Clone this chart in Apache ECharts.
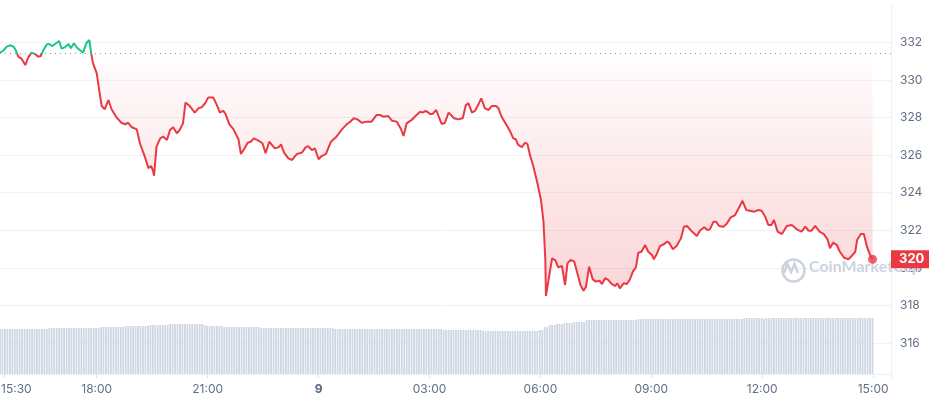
<!DOCTYPE html>
<html><head><meta charset="utf-8">
<script src="https://cdn.jsdelivr.net/npm/echarts@6/dist/echarts.min.js"></script>
<style>html,body{margin:0;padding:0;background:#fff}#c{width:929px;height:400px}</style>
</head><body><div id="c"></div>
<script>
// ---- data ----
const priceTimes = [
'15:23','15:28','15:34','15:39','15:45','15:49','15:53','15:58','16:04','16:09',
'16:14','16:20','16:25','16:29','16:33','16:39','16:43','16:48','16:54','16:59',
'17:03','17:08','17:14','17:18','17:23','17:28','17:34','17:38','17:43','17:48',
'17:51','17:54','18:00','18:04','18:08','18:13','18:19','18:24','18:32','18:40',
'18:46','18:51','18:57','19:05','19:10','19:18','19:24','19:28','19:31','19:33',
'19:37','19:43','19:48','19:54','19:59','20:04','20:10','20:15','20:20','20:24',
'20:31','20:39','20:45','20:50','20:56','21:01','21:09','21:15','21:20','21:25',
'21:29','21:35','21:42','21:50','21:54','21:59','22:05','22:10','22:15','22:21',
'22:29','22:34','22:40','22:49','22:55','22:59','23:04','23:11','23:17','23:25',
'23:33','23:39','23:43','23:49','23:54','00:00','00:05','00:12','00:20','00:29',
'00:38','00:46','00:51','00:57','01:03','01:10','01:18','01:26','01:34','01:40',
'01:45','01:53','01:59','02:07','02:13','02:18','02:23','02:31','02:39','02:45',
'02:49','02:54','03:01','03:05','03:11','03:16','03:20','03:25','03:31','03:34',
'03:40','03:47','03:54','03:59','04:03','04:09','04:14','04:19','04:24','04:30',
'04:36','04:41','04:48','04:52','04:57','05:05','05:11','05:16','05:20','05:24',
'05:30','05:35','05:39','05:43','05:48','05:54','06:01','06:05','06:08','06:09',
'06:15','06:19','06:24','06:29','06:35','06:40','06:44','06:49','06:55','07:00',
'07:05','07:10','07:14','07:19','07:25','07:30','07:36','07:40','07:45','07:50',
'07:56','08:01','08:05','08:09','08:15','08:20','08:25','08:30','08:35','08:39',
'08:44','08:50','08:55','09:01','09:04','09:09','09:14','09:21','09:25','09:29',
'09:35','09:41','09:48','09:53','09:58','10:06','10:14','10:19','10:26','10:31',
'10:35','10:41','10:45','10:50','10:57','11:02','11:09','11:16','11:21','11:28',
'11:34','11:40','11:47','11:54','11:59','12:05','12:10','12:15','12:19','12:25',
'12:32','12:40','12:48','12:56','13:04','13:10','13:15','13:20','13:26','13:33',
'13:40','13:46','13:50','13:55','14:01','14:06','14:13','14:20','14:25','14:31',
'14:34','14:40','14:45','14:50','14:55','14:59'
];
const priceValues = [
331.45,331.55,331.77,331.84,331.77,331.55,331.23,331.13,330.79,331.20,
331.45,331.38,331.23,331.27,331.55,331.89,331.91,331.80,331.95,332.07,
331.66,331.73,331.91,331.68,331.95,331.71,331.55,331.45,331.95,332.12,
331.41,330.88,330.35,329.46,328.61,328.44,328.93,328.44,328.01,327.72,
327.64,327.72,327.48,327.37,326.63,325.92,325.30,325.42,325.21,324.90,
326.45,326.89,326.98,326.80,327.34,327.48,327.16,327.36,327.69,328.79,
328.61,328.26,328.49,328.54,328.76,329.07,329.07,328.66,328.26,328.36,
328.19,327.65,327.37,326.84,326.06,326.31,326.66,326.71,326.89,326.80,
326.63,326.10,326.71,326.36,326.41,326.57,326.13,325.83,325.74,326.06,
326.13,326.41,326.48,326.27,326.36,325.78,325.95,326.06,326.71,326.98,
327.37,327.65,327.76,327.96,327.90,327.72,327.78,327.78,328.13,328.13,
328.04,328.08,327.83,327.78,327.43,327.02,327.69,327.87,328.13,328.31,
328.26,328.35,328.19,328.19,328.40,327.96,327.65,327.72,328.26,328.31,
327.96,327.90,327.96,328.66,328.76,328.26,328.36,328.66,329.02,328.49,
328.40,328.61,328.61,328.49,328.04,327.60,327.25,326.89,326.84,326.54,
326.42,326.66,326.59,326.01,325.47,324.68,323.61,322.46,320.42,318.51,
319.71,320.51,320.42,320.03,320.10,319.09,320.24,320.42,320.33,319.71,
319.09,318.79,319.00,320.06,319.39,319.27,319.32,319.14,319.45,319.36,
319.14,319.04,319.18,318.91,319.18,319.14,319.36,319.80,320.03,320.81,
320.86,321.22,320.86,320.69,320.46,320.74,321.16,321.27,321.39,321.34,
320.99,321.16,321.57,322.19,322.23,321.93,321.70,321.99,322.16,322.02,
322.05,322.46,322.46,322.23,322.19,322.33,322.69,322.81,323.12,323.57,
323.08,323.04,322.99,323.08,323.04,322.72,322.28,322.28,322.55,321.93,
321.80,322.23,322.28,322.05,321.93,322.19,321.98,321.98,322.23,321.93,
321.80,321.52,321.04,321.34,321.22,320.86,320.54,320.46,320.63,320.86,
321.48,321.80,321.80,321.13,320.69,320.46
];
const referencePrice = 331.4;          // dotted opening-price line
const volumeStartTime = '15:23';
const volumeStepMinutes = 4;
const volumeValues = [
4.5,4.5,4.5,4.5,4.5,4.5,4.5,4.5,4.5,4.5,
4.5,4.5,4.5,4.5,4.5,4.5,4.5,4.5,4.5,4.5,
4.6,4.6,4.6,4.6,4.6,4.6,4.6,4.6,4.6,4.6,
4.6,4.6,4.6,4.6,4.6,4.6,4.6,4.6,4.6,4.6,
4.6,4.7,4.7,4.7,4.7,4.7,4.7,4.7,4.7,4.7,
4.7,4.8,4.8,4.8,4.8,4.8,4.8,4.8,4.8,4.8,
4.8,4.9,4.9,4.9,4.9,4.9,4.9,4.9,4.9,5.0,
5.0,5.0,5.0,5.0,5.0,5.0,5.0,5.0,5.0,5.0,
5.0,5.0,5.0,4.9,4.8,4.8,4.8,4.8,4.8,4.8,
4.8,4.7,4.7,4.7,4.7,4.7,4.7,4.7,4.7,4.7,
4.7,4.7,4.7,4.7,4.7,4.7,4.6,4.6,4.6,4.6,
4.6,4.6,4.6,4.6,4.6,4.6,4.6,4.6,4.6,4.6,
4.6,4.6,4.6,4.6,4.6,4.6,4.6,4.6,4.6,4.6,
4.6,4.6,4.6,4.6,4.6,4.6,4.5,4.5,4.5,4.5,
4.5,4.5,4.5,4.5,4.5,4.5,4.5,4.5,4.5,4.5,
4.5,4.5,4.5,4.5,4.5,4.5,4.5,4.5,4.5,4.5,
4.5,4.5,4.5,4.5,4.5,4.5,4.5,4.5,4.5,4.5,
4.5,4.5,4.5,4.5,4.5,4.5,4.5,4.5,4.5,4.5,
4.4,4.4,4.4,4.4,4.4,4.4,4.4,4.4,4.4,4.4,
4.4,4.4,4.4,4.4,4.4,4.4,4.3,4.3,4.3,4.3,
4.3,4.3,4.3,4.3,4.3,4.3,4.3,4.3,4.3,4.3,
4.3,4.3,4.3,4.3,4.3,4.3,4.3,4.3,4.3,4.4,
4.4,4.7,4.7,4.9,4.9,4.9,5.0,5.0,5.0,5.1,
5.1,5.1,5.1,5.2,5.2,5.2,5.2,5.2,5.4,5.4,
5.4,5.4,5.4,5.4,5.4,5.4,5.4,5.4,5.4,5.4,
5.4,5.4,5.4,5.4,5.4,5.4,5.4,5.4,5.4,5.5,
5.5,5.5,5.5,5.5,5.5,5.5,5.5,5.5,5.5,5.5,
5.5,5.5,5.5,5.5,5.5,5.5,5.5,5.5,5.5,5.5,
5.5,5.5,5.5,5.5,5.5,5.5,5.5,5.5,5.5,5.5,
5.5,5.5,5.5,5.5,5.5,5.5,5.5,5.5,5.5,5.5,
5.5,5.5,5.6,5.6,5.6,5.6,5.6,5.6,5.6,5.6,
5.5,5.6,5.6,5.6,5.6,5.6,5.6,5.6,5.6,5.6,
5.6,5.6,5.6,5.6,5.6,5.6,5.6,5.6,5.6,5.6,
5.6,5.6,5.6,5.6,5.6,5.6,5.6,5.6,5.6,5.6,
5.6,5.6,5.6,5.6,5.6,5.6,5.6,5.6,5.6,5.6,
5.6,5.6,5.6,5.6,5.6
];
const axisStartTime = '15:23';
const axisEndTime = '15:29';           // next day
const xTickTimes = ['15:30','18:00','21:00','00:00','03:00','06:00','09:00','12:00','15:00'];
const xTickLabels = ['15:30','18:00','21:00','9','03:00','06:00','09:00','12:00','15:00'];
const priceAxisMin = 314, priceAxisMax = 334, priceAxisStep = 2;

// ---- helpers ----
function clock(s){ const p = s.split(':').map(Number); return p[0] + p[1]/60; }
function toHoursSeq(list, start){
  const out = []; let prev = start, add = 0;
  for (const s of list){ let v = clock(s) + add; if (v < prev - 1e-9){ add += 24; v += 24; } out.push(v); prev = v; }
  return out;
}
const xMin = clock(axisStartTime);
const xMax = clock(axisEndTime) + 24;
const tickHours = toHoursSeq(xTickTimes, xMin);
const priceHours = toHoursSeq(priceTimes, xMin);
const priceData = priceHours.map((h, i) => [h, priceValues[i]]);
const vStart = clock(volumeStartTime);
const volumeData = volumeValues.map((v, i) => [vStart + i * volumeStepMinutes / 60, v]);
const lastPoint = priceData[priceData.length - 1];

const RED = '#ea3943', GREEN = '#16c784';
const chart = echarts.init(document.getElementById('c'), null, {renderer: 'canvas'});
const FONT = 'Inter, "Noto Sans", sans-serif';

chart.setOption({
  animation: false,
  backgroundColor: '#fff',
  textStyle: {fontFamily: FONT},
  grid: [
    {left: 0, right: 38, top: 4.7, bottom: 19.3, containLabel: false, outerBoundsMode: 'none'},
    {left: 0, right: 38, top: 300, bottom: 26, containLabel: false, outerBoundsMode: 'none'}
  ],
  xAxis: [
    {type: 'value', gridIndex: 0, min: xMin, max: xMax, show: false},
    {type: 'value', gridIndex: 1, min: xMin, max: xMax,
     axisLine: {show: true, lineStyle: {color: '#eff2f5'}},
     axisTick: {show: true, customValues: tickHours, length: 4, lineStyle: {color: '#dfe3ea'}},
     splitLine: {show: false},
     axisLabel: {
       customValues: tickHours, margin: 9, color: '#616e85', fontSize: 12, fontFamily: FONT,
       formatter: function (val) {
         let idx = -1; tickHours.forEach((h, i) => { if (Math.abs(h - val) < 1e-6) idx = i; });
         if (idx < 0) return '';
         if (idx === 0) return '{first|' + xTickLabels[idx] + '}';
         if (xTickLabels[idx].indexOf(':') < 0) return '{day|' + xTickLabels[idx] + '}';
         return xTickLabels[idx];
       },
       rich: {
         first: {color: '#616e85', fontSize: 12, fontFamily: FONT, padding: [0, 0, 0, 24]},
         day: {color: '#58667e', fontSize: 12, fontWeight: 'bold', fontFamily: FONT}
       }
     }}
  ],
  yAxis: [
    {type: 'value', gridIndex: 0, position: 'right', min: priceAxisMin, max: priceAxisMax, interval: priceAxisStep,
     axisLine: {show: true, lineStyle: {color: '#eff2f5'}},
     axisTick: {show: false},
     axisLabel: {showMinLabel: false, showMaxLabel: false, color: '#616e85', fontSize: 12, margin: 9, fontFamily: FONT},
     splitLine: {show: true, showMinLine: false, showMaxLine: false, lineStyle: {color: '#eff2f5'}}},
    {type: 'value', gridIndex: 1, min: 0, max: 7.4, show: false}
  ],
  visualMap: {
    type: 'piecewise', show: false, seriesIndex: 1, dimension: 1,
    pieces: [
      {gte: priceAxisMin, lte: referencePrice, color: RED},
      {gt: referencePrice, lte: priceAxisMax, color: GREEN}
    ],
    outOfRange: {color: RED}
  },
  graphic: [
    {type: 'circle', left: 780, top: 257, z: 1, silent: true,
     shape: {r: 11}, style: {fill: 'none', stroke: '#cdd3de', lineWidth: 2.5}},
    {type: 'polyline', z: 1, silent: true,
     shape: {points: [[784, 273], [787.5, 264], [791, 272], [794.5, 264], [798, 273]]},
     style: {fill: 'none', stroke: '#cdd3de', lineWidth: 2.5}},
    {type: 'text', left: 809, top: 259, z: 1, silent: true,
     style: {text: 'CoinMarketCap', fill: '#cdd3de', font: 'bold 16px Lato, sans-serif'}}
  ],
  series: [
    {type: 'bar', xAxisIndex: 1, yAxisIndex: 1, data: volumeData, barWidth: 1.8,
     itemStyle: {color: '#cfd6e4'}, silent: true, z: 1},
    {type: 'line', xAxisIndex: 0, yAxisIndex: 0, data: priceData, showSymbol: false,
     lineStyle: {width: 2}, z: 3, silent: true,
     areaStyle: {origin: referencePrice,
       color: new echarts.graphic.LinearGradient(0, 0, 0, 1, [
         {offset: 0, color: 'rgba(234,57,67,0)'},
         {offset: 1, color: 'rgba(234,57,67,0.3)'}
       ])},
     markLine: {
       silent: true, symbol: ['none', 'none'], animation: false,
       data: [
         {yAxis: referencePrice, lineStyle: {type: [1, 4], color: '#8a93a5', width: 1}, label: {show: false}},
         {yAxis: lastPoint[1], lineStyle: {width: 0, color: 'rgba(0,0,0,0)'},
          label: {show: true, position: 'end', distance: 0, opacity: 1,
            formatter: () => String(Math.floor(lastPoint[1])),
            backgroundColor: RED, color: '#fff', fontWeight: 'bold', fontSize: 13, fontFamily: FONT,
            padding: [3, 8, 2, 8], borderRadius: 0}}
       ]
     }},
    {type: 'scatter', xAxisIndex: 0, yAxisIndex: 0, data: [lastPoint], symbolSize: 9,
     itemStyle: {color: RED}, z: 4, silent: true}
  ]
});
</script></body></html>
